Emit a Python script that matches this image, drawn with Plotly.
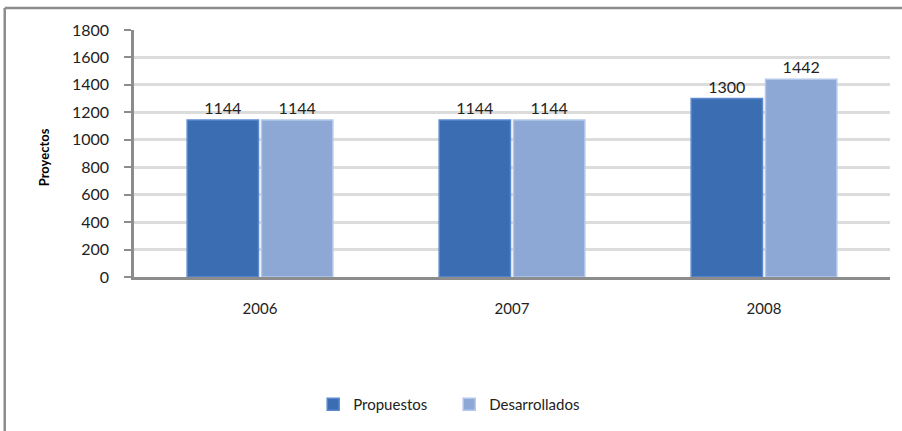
import plotly.graph_objects as go

years = ["2006", "2007", "2008"]
propuestos = [1144, 1144, 1300]
desarrollados = [1144, 1144, 1442]
y_ticks = [0, 200, 400, 600, 800, 1000, 1200, 1400, 1600, 1800]

FONT = "Lato, Open Sans, sans-serif"

fig = go.Figure()
fig.add_trace(go.Bar(
    name="Propuestos", x=years, y=propuestos,
    text=[str(v) for v in propuestos], textposition="outside",
    textfont=dict(size=16, color="#222"),
    marker=dict(color="#3b6db3", line=dict(color="#5b8ad0", width=1.5)),
    cliponaxis=False,
))
fig.add_trace(go.Bar(
    name="Desarrollados", x=years, y=desarrollados,
    text=[str(v) for v in desarrollados], textposition="outside",
    textfont=dict(size=16, color="#222"),
    marker=dict(color="#8ea8d6", line=dict(color="#b3c7ea", width=1.5)),
    cliponaxis=False,
))

fig.update_layout(
    width=902, height=431,
    margin=dict(l=134, r=12, t=30, b=153),
    paper_bgcolor="white", plot_bgcolor="white",
    barmode="group", bargap=0.41, bargroupgap=0.04,
    font=dict(family=FONT, size=15, color="#222"),
    showlegend=True,
    legend=dict(orientation="h", x=0.237, xanchor="left", y=-0.51, yanchor="middle",
                font=dict(size=15), traceorder="normal",
                entrywidth=91, entrywidthmode="pixels"),
    xaxis=dict(showline=True, linecolor="#8c8c8c", linewidth=2.5, ticks="",
               tickfont=dict(size=15), ticklabelstandoff=16),
    yaxis=dict(range=[0, 1800], tickvals=y_ticks, showgrid=True, gridcolor="#dcdcdc",
               gridwidth=2.5, showline=True, linecolor="#8c8c8c", linewidth=2.5,
               ticks="outside", ticklen=7, tickcolor="#8c8c8c", tickwidth=2,
               tickfont=dict(size=16), zeroline=False, ticklabelstandoff=12),
    annotations=[dict(text="<b>Proyectos</b>", textangle=-90, xref="paper", yref="paper",
                      x=-0.118, y=0.484, xanchor="center", yanchor="middle",
                      showarrow=False, font=dict(size=13, color="black"))],
    shapes=[
        dict(type="line", xref="paper", yref="paper", x0=-0.171, x1=1.05, y0=1.089, y1=1.089,
             line=dict(color="#8c8c8c", width=2.5)),
        dict(type="line", xref="paper", yref="paper", x0=-0.171, x1=-0.171, y0=1.089, y1=-0.7,
             line=dict(color="#8c8c8c", width=2.5)),
    ],
)

fig.write_html("out.html", config={"displayModeBar": False},
               post_script="document.body.style.margin='0';document.body.style.padding='0';")
